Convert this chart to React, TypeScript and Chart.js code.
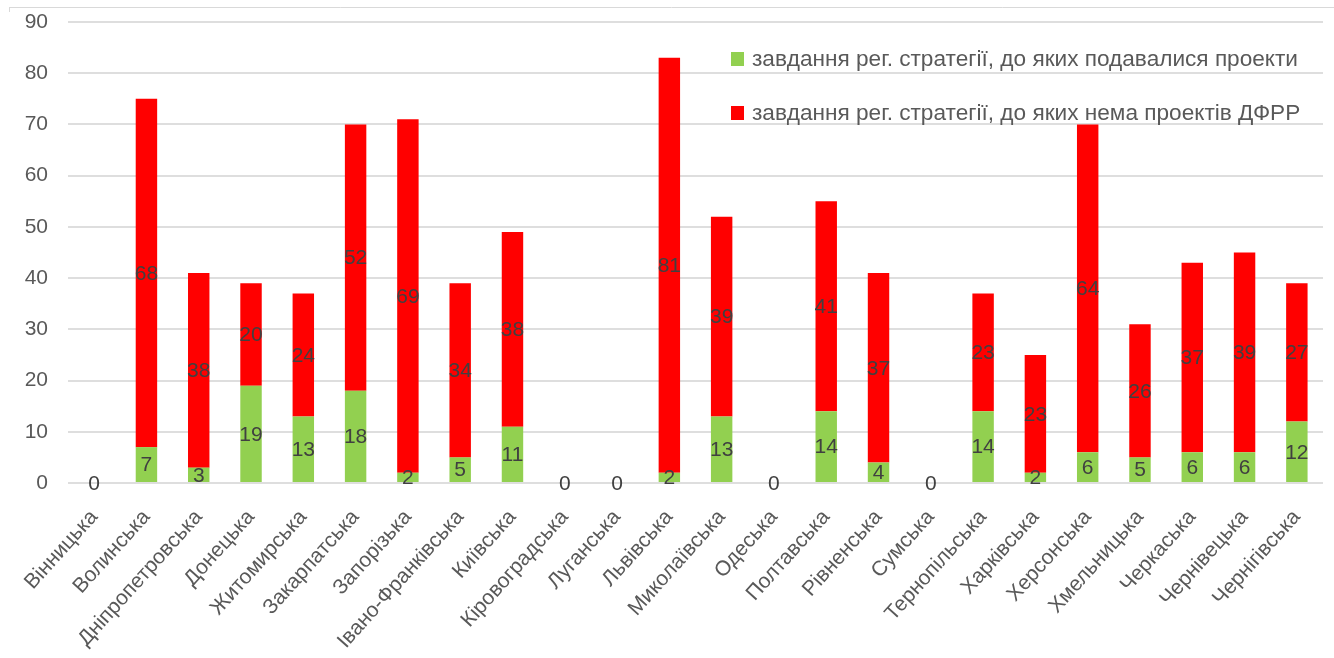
import React, { useEffect, useRef } from "react";
import { Chart, registerables } from "chart.js";

Chart.register(...registerables);

const regions = [
  "Вінницька", "Волинська", "Дніпропетровська", "Донецька", "Житомирська",
  "Закарпатська", "Запорізька", "Івано-Франківська", "Київська", "Кіровоградська",
  "Луганська", "Львівська", "Миколаївська", "Одеська", "Полтавська",
  "Рівненська", "Сумська", "Тернопільська", "Харківська", "Херсонська",
  "Хмельницька", "Черкаська", "Чернівецька", "Чернігівська",
];

const withProjects = [0, 7, 3, 19, 13, 18, 2, 5, 11, 0, 0, 2, 13, 0, 14, 4, 0, 14, 2, 6, 5, 6, 6, 12];
const withoutProjects = [0, 68, 38, 20, 24, 52, 69, 34, 38, 0, 0, 81, 39, 0, 41, 37, 0, 23, 23, 64, 26, 37, 39, 27];

const seriesNames = [
  "завдання рег. стратегії, до яких подавалися проекти",
  "завдання рег. стратегії, до яких нема проектів ДФРР",
];
const seriesColors = ["#92D050", "#FF0000"];

const yMin = 0;
const yMax = 90;
const yStep = 10;

const FONT = "'Liberation Sans', Arial, sans-serif";

export default function App() {
  const ref = useRef<HTMLCanvasElement>(null);

  useEffect(() => {
    document.body.style.margin = "0";
    const canvas = ref.current!;

    const frame = {
      id: "frame",
      beforeDraw(chart: any) {
        const ctx = chart.ctx;
        ctx.save();
        ctx.strokeStyle = "#d9d9d9";
        ctx.lineWidth = 1;
        ctx.beginPath();
        ctx.moveTo(9, 7.5);
        ctx.lineTo(1334, 7.5);
        ctx.moveTo(9.5, 7);
        ctx.lineTo(9.5, 12);
        ctx.stroke();
        ctx.restore();
      },
    };

    const segLabels = {
      id: "segLabels",
      afterDatasetsDraw(chart: any) {
        const ctx = chart.ctx;
        ctx.save();
        ctx.font = `21px ${FONT}`;
        ctx.fillStyle = "#404040";
        ctx.textAlign = "center";
        ctx.textBaseline = "middle";
        chart.data.datasets.forEach((ds: any, di: number) => {
          const meta = chart.getDatasetMeta(di);
          meta.data.forEach((el: any, i: number) => {
            const v = ds.data[i];
            if (v === 0 && di > 0) return;
            const p = el.getProps(["x", "y", "base"], true);
            ctx.fillText(String(v), p.x, (p.y + p.base) / 2 + 1);
          });
        });
        ctx.restore();
      },
    };

    const legendPlugin = {
      id: "customLegend",
      afterDraw(chart: any) {
        const ctx = chart.ctx;
        ctx.save();
        const targetW = 546;
        ctx.font = `22px ${FONT}`;
        const w = ctx.measureText(seriesNames[0]).width;
        const sx = targetW / w;
        ctx.textBaseline = "middle";
        ctx.textAlign = "left";
        const rows = [59, 113];
        seriesNames.forEach((name, i) => {
          const cy = rows[i];
          ctx.fillStyle = seriesColors[i];
          ctx.fillRect(731, cy - 7, 13, 14);
          ctx.fillStyle = "#595959";
          ctx.save();
          ctx.translate(752, cy + 1);
          ctx.scale(sx, 1);
          ctx.fillText(name, 0, 0);
          ctx.restore();
        });
        ctx.restore();
      },
    };

    const chart = new Chart(canvas, {
      type: "bar",
      data: {
        labels: regions,
        datasets: [
          {
            label: seriesNames[0],
            data: withProjects,
            backgroundColor: seriesColors[0],
            barPercentage: 0.41,
            categoryPercentage: 1,
          },
          {
            label: seriesNames[1],
            data: withoutProjects,
            backgroundColor: seriesColors[1],
            barPercentage: 0.41,
            categoryPercentage: 1,
          },
        ],
      },
      options: {
        responsive: false,
        animation: false,
        layout: { padding: { top: 22, right: 11, left: 0, bottom: 0 } },
        plugins: {
          legend: { display: false },
          tooltip: { enabled: false },
        },
        scales: {
          x: {
            stacked: true,
            grid: { display: false },
            border: { display: false },
            ticks: {
              color: "#595959",
              font: { family: FONT, size: 21 },
              minRotation: 48,
              maxRotation: 48,
              autoSkip: false,
              padding: 14,
            },
            afterFit: (s: any) => {
              s.height = 175;
            },
          },
          y: {
            stacked: true,
            min: yMin,
            max: yMax,
            ticks: {
              stepSize: yStep,
              color: "#595959",
              font: { family: FONT, size: 21 },
              padding: 3,
            },
            grid: {
              color: "#dedede",
              lineWidth: 2,
              drawTicks: true,
              tickLength: 17,
              tickColor: "rgba(0,0,0,0)",
            },
            border: { display: false },
            afterFit: (s: any) => {
              s.width = 68;
            },
          },
        },
      },
      plugins: [frame, segLabels, legendPlugin],
    });

    return () => chart.destroy();
  }, []);

  return (
    <canvas
      ref={ref}
      width={1334}
      height={658}
      style={{ display: "block", width: 1334, height: 658 }}
    />
  );
}
